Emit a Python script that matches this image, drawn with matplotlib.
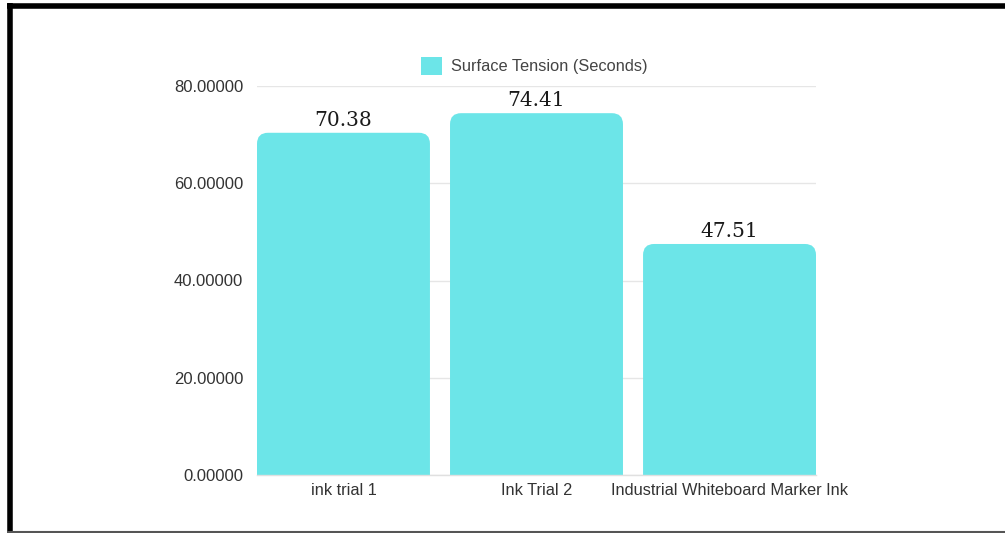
import matplotlib.pyplot as plt
from matplotlib.patches import FancyBboxPatch
from matplotlib.lines import Line2D

categories = ['ink trial 1', 'Ink Trial 2', 'Industrial Whiteboard Marker Ink']
surface_tension = [70.38, 74.41, 47.51]
value_labels = ['70.38', '74.41', '47.51']
yticks = [0, 20, 40, 60, 80]
series_name = 'Surface Tension (Seconds)'

bar_color = '#6ce5e8'
W, H = 1005, 533

fig = plt.figure(figsize=(W / 100, H / 100), dpi=100)
# axes placed in pixels: x 257..816, y 86(=80)..475(=0)
ax = fig.add_axes([257 / W, (H - 475) / H, (816 - 257) / W, (475 - 86) / H])

x = list(range(len(categories)))
width = 0.896
bars = ax.bar(x, surface_tension, width=width, color=bar_color, zorder=2)

ax.set_xlim(-0.448, 2.448)
ax.set_ylim(0, 80)

# rounded tops: swap each bar for a rounded box whose bottom sits below 0 (clipped)
rad_px = 11
px_x = (816 - 257) / (2.448 + 0.448)
px_y = (475 - 86) / 80
rad_x = rad_px / px_x
aspect = px_x / px_y
for b in bars:
    b.set_visible(False)
    bx, bw, bh = b.get_x(), b.get_width(), b.get_height()
    pad_y = rad_x * aspect
    p = FancyBboxPatch((bx + rad_x, -pad_y * 2), bw - 2 * rad_x, bh + pad_y,
                       boxstyle=f'round,pad={rad_x},rounding_size={rad_x}',
                       mutation_aspect=aspect, facecolor=bar_color,
                       edgecolor='none', zorder=2, clip_on=True)
    ax.add_patch(p)

for xi, v, lab in zip(x, surface_tension, value_labels):
    ax.text(xi, v + 0.6, lab, ha='center', va='bottom', fontsize=14.5,
            family='DejaVu Serif', color='#1a1a1a', zorder=3)

ax.set_yticks(yticks)
ax.set_yticklabels([f'{t:.5f}' for t in yticks], fontsize=12,
                   family='Liberation Sans', color='#333333')
ax.set_xticks(x)
ax.set_xticklabels(categories, fontsize=11.8, family='Liberation Sans', color='#333333')
ax.tick_params(axis='y', length=0, pad=10)
ax.tick_params(axis='x', length=0, pad=6)

ax.grid(axis='y', color='#e6e6e6', linewidth=1, zorder=0)
ax.set_axisbelow(True)
for s in ['top', 'right', 'left']:
    ax.spines[s].set_visible(False)
ax.spines['bottom'].set_color('#e0e0e0')
ax.spines['bottom'].set_linewidth(1)

# legend
handle = plt.Rectangle((0, 0), 1, 1, facecolor=bar_color, edgecolor='none')
fig.legend([handle], [series_name], loc='center', bbox_to_anchor=(534 / W, 1 - 66 / H),
           frameon=False, handlelength=1.3, handleheight=1.3, handletextpad=0.5,
           prop={'family': 'Liberation Sans', 'size': 11.8}, labelcolor='#444444')

# outer frame
fig.add_artist(Line2D([9.5 / W, 9.5 / W], [0, 1 - 3 / H], transform=fig.transFigure,
                      color='black', linewidth=4, solid_capstyle='butt'))
fig.add_artist(Line2D([7 / W, 1], [1 - 5.5 / H, 1 - 5.5 / H], transform=fig.transFigure,
                      color='black', linewidth=4, solid_capstyle='butt'))
fig.add_artist(Line2D([7 / W, 1], [1.5 / H, 1.5 / H], transform=fig.transFigure,
                      color='#555555', linewidth=1.5, solid_capstyle='butt'))

fig.savefig('out.png', dpi=100)
